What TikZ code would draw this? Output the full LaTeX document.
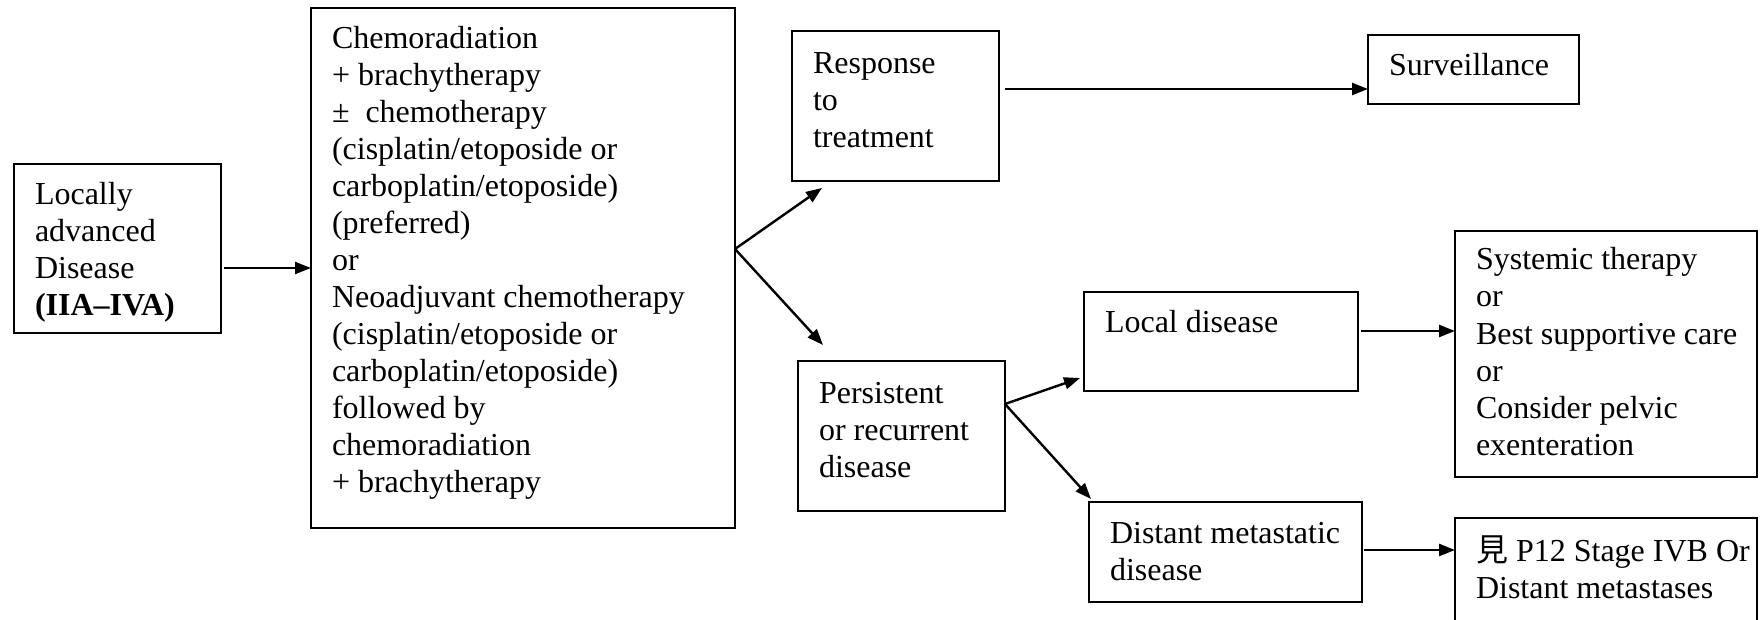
\documentclass[tikz,border=0pt]{standalone}
\usepackage{fontspec}
\setmainfont{Liberation Serif}
\newfontfamily\cjk{Noto Sans CJK TC}
\usetikzlibrary{arrows.meta,calc}
\newcommand{\boxtxt}[4]{\parbox[t][\dimexpr#2pt/2\relax][t]{\dimexpr#1pt/2\relax}{\fontsize{16pt}{18.5pt}\selectfont\leftskip=10.5pt\relax\vspace*{\dimexpr#3pt/2-0.7\baselineskip\relax}\strut#4}}
\begin{document}
\begin{tikzpicture}[x=0.5pt,y=-0.5pt,
  box/.style={draw,line width=0.9pt,inner sep=0pt,outer sep=0pt,anchor=north west},
  arr/.style={-{Triangle[length=8pt,width=6pt]},line width=1.2pt}]
\useasboundingbox (0,0) rectangle (1760,620);
\fill[white] (0,0) rectangle (1760,620);
\node[box] (b1) at (14,164) {\boxtxt{207}{169}{41}{Locally\\advanced\\Disease\\\textbf{(IIA–IVA)}}};
\node[box] (b2) at (311,8) {\boxtxt{424}{520}{41}{Chemoradiation\\+ brachytherapy\\±\ \ chemotherapy\\(cisplatin/etoposide or\\carboplatin/etoposide)\\(preferred)\\or\\Neoadjuvant chemotherapy\\(cisplatin/etoposide or\\carboplatin/etoposide)\\followed by\\chemoradiation\\+ brachytherapy}};
\node[box] (resp) at (792,31) {\boxtxt{207}{150}{43}{Response\\to\\treatment}};
\node[box] (surv) at (1368,35) {\boxtxt{211}{69}{41}{Surveillance}};
\node[box] (local) at (1084,292) {\boxtxt{274}{99}{41}{Local disease}};
\node[box] (pers) at (798,361) {\boxtxt{207}{150}{42}{Persistent\\or recurrent\\disease}};
\node[box] (syst) at (1455,231) {\boxtxt{302}{246}{39}{Systemic therapy\\or\\Best supportive care\\or\\Consider pelvic\\exenteration}};
\node[box] (dist) at (1089,502) {\boxtxt{273}{100}{41}{Distant metastatic\\disease}};
\node[box] (see) at (1455,518) {\boxtxt{302}{112}{43}{{\cjk 見} P12 Stage IVB Or\\Distant metastases}};
\coordinate (ya) at (0,268);
\coordinate (yb) at (0,249);
\coordinate (yc) at (0,89);
\coordinate (yd) at (0,404);
\coordinate (ye) at (0,331);
\coordinate (yf) at (0,550);
\draw[arr,shorten <=1.5pt] (b1.east |- ya) -- (b2.west |- ya);
\draw[arr,shorten <=0.5pt] (b2.east |- yb) -- ($(resp.south west)+(30,7)$);
\draw[arr,shorten <=0.5pt] (b2.east |- yb) -- ($(pers.north west)+(25,-16)$);
\draw[arr,shorten <=3pt] (resp.east |- yc) -- (surv.west |- yc);
\draw[arr,shorten <=0.5pt] (pers.east |- yd) -- ($(local.south west)+(-4,-13)$);
\draw[arr,shorten <=0.5pt] (pers.east |- yd) -- ($(dist.north west)+(2,-3)$);
\draw[arr,shorten <=1.5pt] (local.east |- ye) -- (syst.west |- ye);
\draw[arr,shorten <=1pt] (dist.east |- yf) -- (see.west |- yf);
\end{tikzpicture}
\end{document}
